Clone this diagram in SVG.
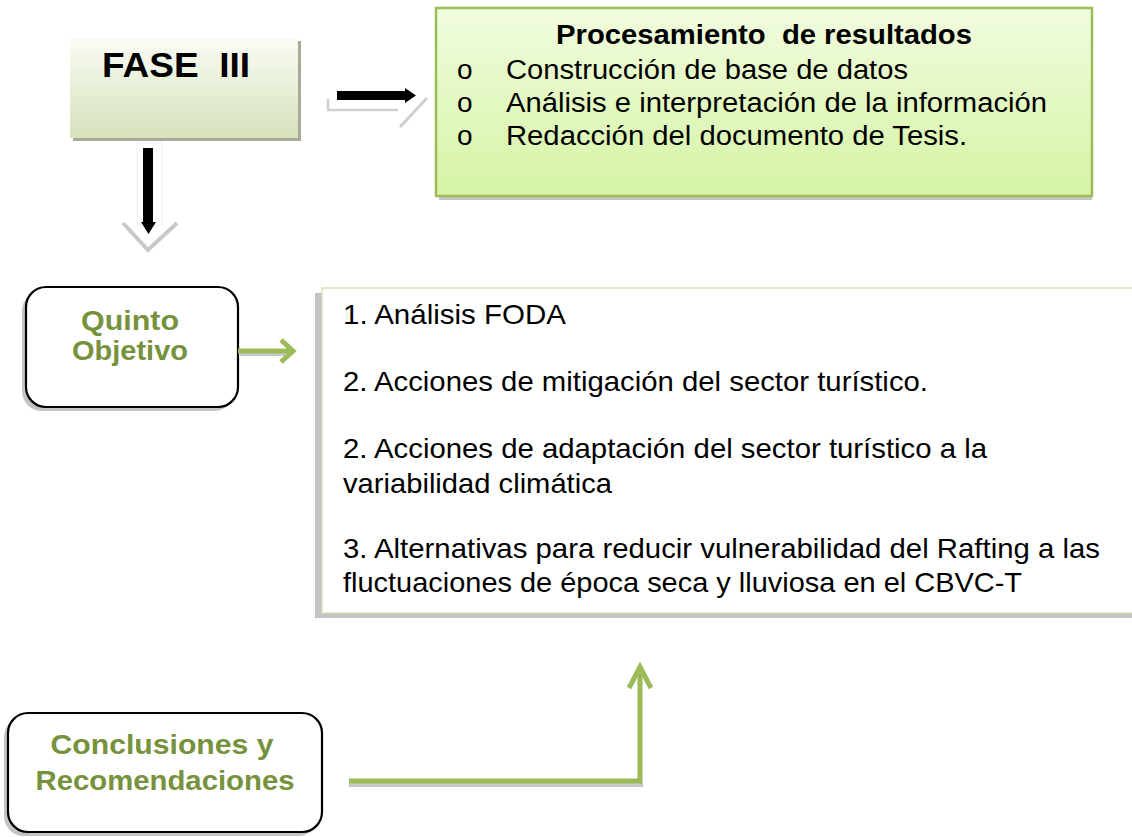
<svg xmlns="http://www.w3.org/2000/svg" width="1132" height="837" viewBox="0 0 1132 837">
<defs>
<linearGradient id="gFase" x1="0" y1="0" x2="0" y2="1">
<stop offset="0" stop-color="#fafcf5"/>
<stop offset="1" stop-color="#d5e2bb"/>
</linearGradient>
<linearGradient id="gProc" x1="0" y1="0" x2="0" y2="1">
<stop offset="0" stop-color="#f1fcdf"/>
<stop offset="1" stop-color="#d5f4a5"/>
</linearGradient>
<style>
.t{font-family:"Liberation Sans",Arial,sans-serif;fill:#000}
.b{font-weight:bold}
.g{fill:#76923c;font-weight:bold;font-family:"Liberation Sans",Arial,sans-serif}
.sh{fill:#c4c4c4}
.rb{fill:#fff;stroke:#000;stroke-width:2.2}
.ga{stroke:#9bbb59;stroke-width:5;fill:none}
.gs{stroke:#c8c8c8;stroke-width:4;fill:none}
</style>
</defs>

<g id="fase3">
<rect x="73" y="41" width="228" height="100" fill="#a9ab98"/>
<rect x="70" y="38" width="228" height="100" fill="url(#gFase)"/>
<text class="t b" x="102" y="77" font-size="35" textLength="148" lengthAdjust="spacingAndGlyphs" xml:space="preserve">FASE  III</text>
</g>

<g id="procesamiento">
<rect class="sh" x="439" y="195" width="653" height="5"/>
<rect x="436" y="8" width="656" height="188" fill="url(#gProc)" stroke="#9bbb59" stroke-width="2.5"/>
<text class="t b" x="556" y="44" font-size="27" textLength="416" lengthAdjust="spacingAndGlyphs" xml:space="preserve">Procesamiento  de resultados</text>
<text class="t" x="457" y="79" font-size="28">o</text>
<text class="t" x="457" y="112" font-size="28">o</text>
<text class="t" x="457" y="145" font-size="28">o</text>
<text class="t" x="506" y="79" font-size="27" textLength="402" lengthAdjust="spacingAndGlyphs">Construcción de base de datos</text>
<text class="t" x="506" y="112" font-size="27" textLength="541" lengthAdjust="spacingAndGlyphs">Análisis e interpretación de la información</text>
<text class="t" x="506" y="145" font-size="27" textLength="461" lengthAdjust="spacingAndGlyphs">Redacción del documento de Tesis.</text>
</g>

<g id="quinto">
<rect class="sh" x="22" y="291" width="212" height="120" rx="20"/>
<rect class="rb" x="26" y="287" width="212" height="120" rx="20"/>
<text class="g" x="130" y="330" font-size="28" text-anchor="middle" textLength="98" lengthAdjust="spacingAndGlyphs">Quinto</text>
<text class="g" x="130" y="360" font-size="28" text-anchor="middle" textLength="116" lengthAdjust="spacingAndGlyphs">Objetivo</text>
</g>

<g id="acciones">
<rect class="sh" x="315" y="293" width="817" height="325"/>
<rect x="322" y="288" width="820" height="325" fill="#fff" stroke="#d7e4bd" stroke-width="1.5"/>
<text class="t" x="343" y="324" font-size="28" textLength="223" lengthAdjust="spacingAndGlyphs">1. Análisis FODA</text>
<text class="t" x="343" y="391" font-size="28" textLength="585" lengthAdjust="spacingAndGlyphs">2. Acciones de mitigación del sector turístico.</text>
<text class="t" x="343" y="458" font-size="28" textLength="644" lengthAdjust="spacingAndGlyphs">2. Acciones de adaptación del sector turístico a la</text>
<text class="t" x="343" y="493" font-size="28" textLength="269" lengthAdjust="spacingAndGlyphs">variabilidad climática</text>
<text class="t" x="343" y="558" font-size="28" textLength="757" lengthAdjust="spacingAndGlyphs">3. Alternativas para reducir vulnerabilidad del Rafting a las</text>
<text class="t" x="343" y="592" font-size="28" textLength="679" lengthAdjust="spacingAndGlyphs">fluctuaciones de época seca y lluviosa en el CBVC-T</text>
</g>

<g id="conclusiones">
<rect class="sh" x="4" y="717" width="314" height="119" rx="20"/>
<rect class="rb" x="8" y="713" width="314" height="119" rx="20"/>
<text class="g" x="162" y="754" font-size="28" text-anchor="middle" textLength="223" lengthAdjust="spacingAndGlyphs">Conclusiones y</text>
<text class="g" x="165" y="790" font-size="28" text-anchor="middle" textLength="259" lengthAdjust="spacingAndGlyphs">Recomendaciones</text>
</g>

<g id="connectors">
<polyline points="328,99 328,110 398,110" fill="none" stroke="#cfcfcf" stroke-width="2.5"/>
<line x1="400" y1="127" x2="427" y2="98" stroke="#cfcfcf" stroke-width="3"/>
<rect x="337" y="91" width="71" height="9" fill="#000"/>
<polygon points="405,88 416,95.5 405,103" fill="#000"/>
<rect x="137" y="143" width="25" height="82" fill="none" stroke="#f0f0f0" stroke-width="1"/>
<polyline points="123,223 148,250 177,223" class="gs" stroke-width="3"/>
<rect x="143" y="148" width="10" height="77" fill="#000"/>
<polygon points="141,222 156,222 148.5,234" fill="#000"/>
<line x1="240" y1="354" x2="290" y2="354" class="gs"/>
<line x1="238" y1="351" x2="290" y2="351" class="ga"/>
<polyline points="281,340 293,351 281,362" class="ga" stroke-width="6"/>
<polyline points="349,785 643,785" class="gs"/>
<polyline points="349,781 640,781 640,668" class="ga"/>
<polyline points="629,688 640,667 651,688" class="ga" stroke-width="6" stroke-linejoin="miter"/>
</g>
</svg>
